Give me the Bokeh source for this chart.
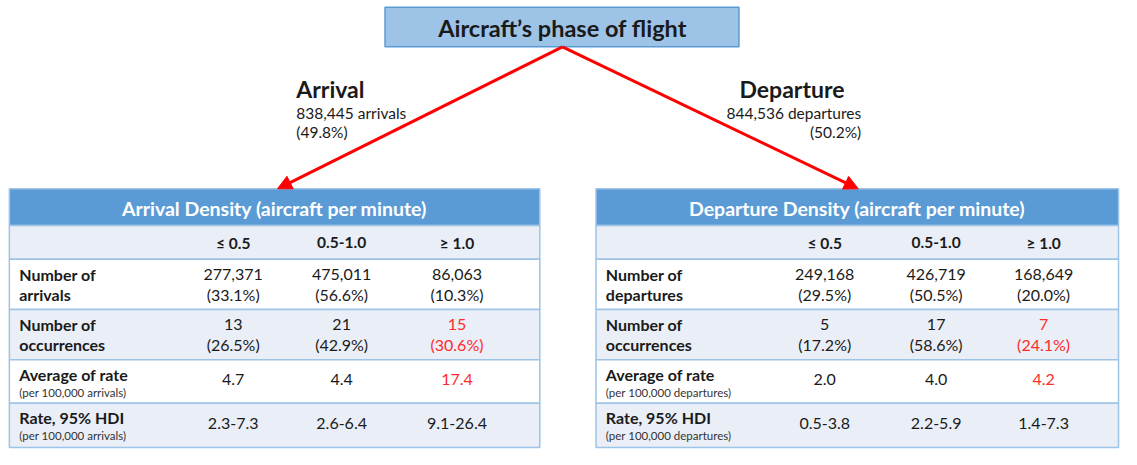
from bokeh.plotting import figure
from bokeh.models import Range1d, Arrow, NormalHead
from bokeh.core.properties import value
from bokeh.embed import file_html
from bokeh.resources import INLINE

# ---------------- data ----------------
root_label = "Aircraft’s phase of flight"
phases = ["Arrival", "Departure"]
phase_totals = [838445, 844536]
phase_pct = [49.8, 50.2]
phase_units = ["arrivals", "departures"]

density_bins = ["≤ 0.5", "0.5-1.0", "≥ 1.0"]
table_titles = ["Arrival Density (aircraft per minute)", "Departure Density (aircraft per minute)"]

arr_flights = [277371, 475011, 86063]
arr_flights_pct = [33.1, 56.6, 10.3]
arr_occ = [13, 21, 15]
arr_occ_pct = [26.5, 42.9, 30.6]
arr_rate = [4.7, 4.4, 17.4]
arr_hdi_low = [2.3, 2.6, 9.1]
arr_hdi_high = [7.3, 6.4, 26.4]

dep_flights = [249168, 426719, 168649]
dep_flights_pct = [29.5, 50.5, 20.0]
dep_occ = [5, 17, 7]
dep_occ_pct = [17.2, 58.6, 24.1]
dep_rate = [2.0, 4.0, 4.2]
dep_hdi_low = [0.5, 2.2, 1.4]
dep_hdi_high = [3.8, 5.9, 7.3]

highlight = [False, False, True]

# ---------------- styling ----------------
FONT = "Lato"
BLUE = "#5b9bd5"
LIGHT = "#e9eef7"
BORDER = "#9dc3e6"
RED = "#ff2a2a"
DARK = "#1a1a1a"

W, H = 1121, 449
p = figure(width=W, height=H, output_backend="svg", toolbar_location=None,
           x_range=Range1d(0, 1137), y_range=Range1d(465, 0),
           min_border=0, outline_line_color=None)
p.axis.visible = False
p.grid.visible = False
p.background_fill_color = "white"


def txt(x, y, s, size, color=DARK, bold=False, align="center", baseline="middle"):
    p.text(x=[x], y=[y], text=[s], text_font=value(FONT), text_font_size=f"{size}px",
           text_font_style="bold" if bold else "normal", text_color=color,
           text_align=align, text_baseline=baseline)


# root box
p.quad(left=[390], right=[749], top=[7], bottom=[48], fill_color="#9dc3e6",
       line_color="#5b9bd5", line_width=1.5)
txt(570, 28, root_label, 23.5, bold=True)

# arrows
apex = (570, 48)
for tip in [(281, 195), (870, 195)]:
    p.add_layout(Arrow(end=NormalHead(size=14, fill_color="#ff0000", line_color="#ff0000"),
                       x_start=apex[0], y_start=apex[1], x_end=tip[0], y_end=tip[1],
                       line_color="#ff0000", line_width=3))

# phase labels
txt(300, 92, phases[0], 23, bold=True, align="left")
txt(300, 117, f"{phase_totals[0]:,} {phase_units[0]}", 15.5, align="left")
txt(300, 136, f"({phase_pct[0]}%)", 15.5, align="left")
txt(856, 92, phases[1], 23, bold=True, align="right")
txt(873, 117, f"{phase_totals[1]:,} {phase_units[1]}", 15.5, align="right")
txt(873, 136, f"({phase_pct[1]}%)", 15.5, align="right")

# table geometry
rows_y = [195, 233, 268, 320, 372, 417, 463]
row_fill = [BLUE, LIGHT, "white", LIGHT, "white", LIGHT]


def table(x0, x1, col_x, title, unit, flights, flights_pct, occ, occ_pct, rate, lo, hi):
    for i in range(6):
        p.quad(left=[x0], right=[x1], top=[rows_y[i]], bottom=[rows_y[i + 1]],
               fill_color=row_fill[i], line_color=BORDER, line_width=1.5)
    mid = (x0 + x1) / 2
    txt(mid, 215, title, 19.5, color="white", bold=True)
    for cx, b in zip(col_x, density_bins):
        txt(cx, 251, b, 15.5, bold=True)
    lx = x0 + 10
    # row 1
    txt(lx, 284, "Number of", 16, bold=True, align="left")
    txt(lx, 304, unit, 16, bold=True, align="left")
    for cx, v, pc in zip(col_x, flights, flights_pct):
        txt(cx, 284, f"{v:,}", 16)
        txt(cx, 304, f"({pc:.1f}%)", 16)
    # row 2
    txt(lx, 336, "Number of", 16, bold=True, align="left")
    txt(lx, 356, "occurrences", 16, bold=True, align="left")
    for cx, v, pc, h in zip(col_x, occ, occ_pct, highlight):
        c = RED if h else DARK
        txt(cx, 336, f"{v}", 16, color=c)
        txt(cx, 356, f"({pc:.1f}%)", 16, color=c)
    # row 3
    txt(lx, 387, "Average of rate", 16, bold=True, align="left")
    txt(lx, 406, f"(per 100,000 {unit})", 11.5, color="#333333", align="left")
    for cx, v, h in zip(col_x, rate, highlight):
        txt(cx, 393, f"{v:.1f}", 16, color=RED if h else DARK)
    # row 4
    txt(lx, 432, "Rate, 95% HDI", 16, bold=True, align="left")
    txt(lx, 451, f"(per 100,000 {unit})", 11.5, color="#333333", align="left")
    for cx, a, b in zip(col_x, lo, hi):
        txt(cx, 438, f"{a:.1f}-{b:.1f}", 16)


table(9, 547, [236, 346, 463], table_titles[0], phase_units[0], arr_flights, arr_flights_pct,
      arr_occ, arr_occ_pct, arr_rate, arr_hdi_low, arr_hdi_high)
table(604, 1134, [836, 949, 1058], table_titles[1], phase_units[1], dep_flights, dep_flights_pct,
      dep_occ, dep_occ_pct, dep_rate, dep_hdi_low, dep_hdi_high)

open("out.html", "w").write(file_html(p, INLINE))
